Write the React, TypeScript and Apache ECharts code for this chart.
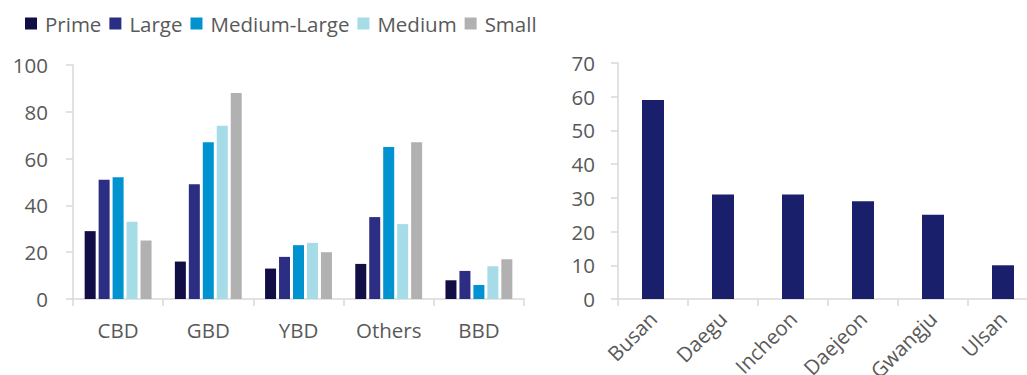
import React, { useEffect, useRef } from "react";
import * as echarts from "echarts";

const districts = ["CBD", "GBD", "YBD", "Others", "BBD"];
const sizeClasses = ["Prime", "Large", "Medium-Large", "Medium", "Small"];
const prime = [29, 16, 13, 15, 8];
const large = [51, 49, 18, 35, 12];
const mediumLarge = [52, 67, 23, 65, 6];
const medium = [33, 74, 24, 32, 14];
const small = [25, 88, 20, 67, 17];
const sizeColors = ["#110d45", "#2b2e83", "#0093d0", "#a6dbe8", "#b1b1b1"];

const cities = ["Busan", "Daegu", "Incheon", "Daejeon", "Gwangju", "Ulsan"];
const cityValues = [59, 31, 31, 29, 25, 10];

const FONT = "'Open Sans', 'DejaVu Sans', sans-serif";
const TEXT = "#595959";
const AXIS = "#d9d9d9";

export default function App() {
  const ref = useRef<HTMLDivElement>(null);
  useEffect(() => {
    if (!ref.current) return;
    const chart = echarts.init(ref.current, undefined, { renderer: "svg" });
    const seriesData = [prime, large, mediumLarge, medium, small];
    const axisLine = { show: true, lineStyle: { color: AXIS, width: 1.5 } };
    const axisTick = { show: true, length: 7, lineStyle: { color: AXIS, width: 1.5 } };
    const label = { color: TEXT, fontFamily: FONT, fontSize: 20.5 };
    chart.setOption({
      animation: false,
      textStyle: { fontFamily: FONT },
      legend: {
        left: 20,
        top: 8,
        itemWidth: 12,
        itemHeight: 12,
        itemGap: 8,
        icon: "rect",
        data: sizeClasses,
        textStyle: { color: TEXT, fontFamily: FONT, fontSize: 20.5, padding: [0, 0, 0, 3] },
      },
      grid: [
        { left: 73, top: 65, width: 451, height: 234, outerBoundsMode: "none", containLabel: false },
        { left: 618, top: 63, width: 420, height: 236, outerBoundsMode: "none", containLabel: false },
      ],
      xAxis: [
        {
          type: "category",
          gridIndex: 0,
          data: districts,
          axisLine,
          axisTick,
          axisLabel: { ...label, margin: 20, interval: 0 },
        },
        {
          type: "category",
          gridIndex: 1,
          data: cities,
          axisLine,
          axisTick,
          axisLabel: { ...label, margin: 16, interval: 0, rotate: 45 },
        },
      ],
      yAxis: [
        {
          type: "value",
          gridIndex: 0,
          min: 0,
          max: 100,
          interval: 20,
          axisLine,
          axisTick,
          splitLine: { show: false },
          axisLabel: { ...label, margin: 25 },
        },
        {
          type: "value",
          gridIndex: 1,
          min: 0,
          max: 70,
          interval: 10,
          axisLine,
          axisTick,
          splitLine: { show: false },
          axisLabel: { ...label, margin: 23 },
        },
      ],
      series: [
        ...sizeClasses.map((name, i) => ({
          name,
          type: "bar",
          xAxisIndex: 0,
          yAxisIndex: 0,
          data: seriesData[i],
          barWidth: 11,
          barGap: "27%",
          itemStyle: { color: sizeColors[i] },
        })),
        {
          name: "Cities",
          type: "bar",
          xAxisIndex: 1,
          yAxisIndex: 1,
          data: cityValues,
          barWidth: 22,
          itemStyle: { color: "#1a1f6c" },
        },
      ],
    });
    return () => chart.dispose();
  }, []);
  return (
    <div
      ref={ref}
      style={{ position: "fixed", left: 0, top: 0, width: 1027, height: 375, background: "#fff" }}
    />
  );
}
